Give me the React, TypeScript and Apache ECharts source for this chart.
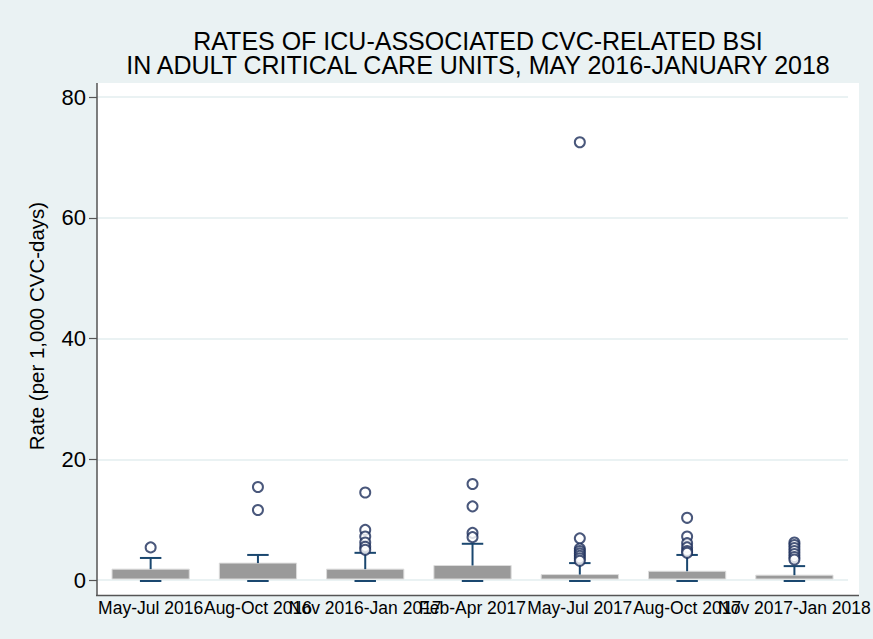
import React, { useEffect, useRef } from "react";
import * as echarts from "echarts";

const categories = [
  "May-Jul 2016",
  "Aug-Oct 2016",
  "Nov 2016-Jan 2017",
  "Feb-Apr 2017",
  "May-Jul 2017",
  "Aug-Oct 2017",
  "Nov 2017-Jan 2018",
];
const boxLow = [0, 0, 0, 0, 0, 0, 0];
const boxMedian = [0, 0, 0, 0, 0, 0, 0];
const boxUpperQuartile = [1.8, 2.8, 1.8, 2.4, 0.9, 1.45, 0.8];
const upperWhisker = [3.65, 4.15, 4.5, 6.0, 2.8, 4.15, 2.3];
const outliers: number[][] = [
  [5.4],
  [15.4, 11.6],
  [14.5, 8.3, 7.2, 6.2, 5.5, 5.0],
  [15.9, 12.2, 7.8, 7.1],
  [72.5, 6.9, 5.2, 4.8, 4.4, 4.0, 3.6, 3.2],
  [10.3, 7.2, 6.1, 5.4, 4.8, 4.5],
  [6.2, 5.8, 5.3, 4.8, 4.3, 3.8, 3.4],
];
const yTicks = [0, 20, 40, 60, 80];
const titleLines = [
  "RATES OF ICU-ASSOCIATED CVC-RELATED BSI",
  "IN ADULT CRITICAL CARE UNITS, MAY 2016-JANUARY 2018",
];
const yTitle = "Rate (per 1,000 CVC-days)";

const NAVY = "#1a476f";
const MARKER = "#1c2d5a";
const BG = "#eaf2f3";
const FONT = "'Liberation Sans', Arial, sans-serif";

export default function App() {
  const ref = useRef<HTMLDivElement>(null);
  useEffect(() => {
    if (!ref.current) return;
    const chart = echarts.init(ref.current, undefined, { renderer: "svg" });
    const boxData = categories.map((_, i) => [
      i,
      boxLow[i],
      boxMedian[i],
      boxUpperQuartile[i],
      upperWhisker[i],
    ]);
    const outlierData: number[][] = [];
    outliers.forEach((arr, i) => arr.forEach((v) => outlierData.push([i, v])));

    chart.setOption({
      animation: false,
      backgroundColor: BG,
      textStyle: { fontFamily: FONT },
      grid: { left: 97, right: 14, top: 97, bottom: 59, containLabel: false },
      graphic: [
        {
          type: "rect",
          z: -10,
          silent: true,
          shape: { x: 97, y: 83, width: 762, height: 512 },
          style: { fill: "#ffffff" },
        },
        {
          type: "line",
          z: 10,
          shape: { x1: 97, y1: 83, x2: 97, y2: 596 },
          style: { stroke: "#555555", lineWidth: 1.5 },
        },
        {
          type: "line",
          z: 10,
          shape: { x1: 96, y1: 595.5, x2: 859, y2: 595.5 },
          style: { stroke: "#555555", lineWidth: 1.5 },
        },
        {
          type: "text",
          x: 478,
          y: 29,
          style: {
            text: titleLines.join("\n"),
            fontSize: 25,
            lineHeight: 24,
            fontFamily: FONT,
            fill: "#000000",
            align: "center",
            verticalAlign: "top",
          },
        },
        {
          type: "text",
          x: 26,
          y: 326,
          rotation: Math.PI / 2,
          style: {
            text: yTitle,
            fontSize: 20.5,
            fontFamily: FONT,
            fill: "#000000",
            align: "center",
            verticalAlign: "top",
          },
        },
      ],
      xAxis: {
        type: "category",
        data: categories,
        boundaryGap: true,
        axisLine: { show: false },
        axisTick: { show: false },
        axisLabel: {
          interval: 0,
          margin: 19,
          fontSize: 17.5,
          color: "#000000",
          fontFamily: FONT,
          hideOverlap: false,
        },
        splitLine: { show: false },
      },
      yAxis: {
        type: "value",
        min: yTicks[0],
        max: yTicks[yTicks.length - 1],
        interval: 20,
        axisLine: { show: false },
        axisTick: { show: true, length: 8, lineStyle: { color: "#555555", width: 1.2 } },
        axisLabel: { fontSize: 22, color: "#000000", margin: 11, fontFamily: FONT },
        splitLine: { show: true, lineStyle: { color: BG, width: 2 } },
      },
      series: [
        {
          type: "custom",
          data: boxData,
          clip: false,
          z: 3,
          renderItem: (params: any, api: any) => {
            const i = api.value(0);
            const base = api.coord([i, api.value(1)]);
            const q3 = api.coord([i, api.value(3)]);
            const hi = api.coord([i, api.value(4)]);
            const band = api.size([1, 0])[0];
            const bw = band * 0.72;
            const cw = band * 0.2;
            const x = base[0];
            return {
              type: "group",
              children: [
                {
                  type: "rect",
                  shape: { x: x - bw / 2, y: q3[1], width: bw, height: base[1] - q3[1] - 1 },
                  style: { fill: "#9a9a9a", stroke: "#dcdcdc", lineWidth: 1 },
                },
                {
                  type: "line",
                  shape: { x1: x, y1: q3[1], x2: x, y2: hi[1] },
                  style: { stroke: NAVY, lineWidth: 2 },
                },
                {
                  type: "line",
                  shape: { x1: x - cw / 2, y1: hi[1], x2: x + cw / 2, y2: hi[1] },
                  style: { stroke: NAVY, lineWidth: 2 },
                },
                {
                  type: "line",
                  shape: { x1: x - cw / 2, y1: base[1] + 1, x2: x + cw / 2, y2: base[1] + 1 },
                  style: { stroke: NAVY, lineWidth: 2 },
                },
              ],
            };
          },
        },
        {
          type: "scatter",
          data: outlierData,
          z: 4,
          symbol: "emptyCircle",
          symbolSize: 10,
          itemStyle: { color: MARKER, borderColor: MARKER, borderWidth: 2.2 },
        },
      ],
    });
    return () => chart.dispose();
  }, []);
  return (
    <div
      ref={ref}
      style={{ position: "fixed", left: 0, top: 0, width: 873, height: 639 }}
    />
  );
}
